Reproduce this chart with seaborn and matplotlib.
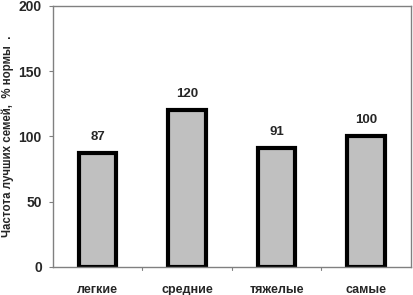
import numpy as np
import pandas as pd
import seaborn as sns
import matplotlib.pyplot as plt

categories = ['легкие', 'средние', 'тяжелые', 'самые']
values = [87, 120, 91, 100]
ylabel = 'Частота лучших семей,  % нормы  .'

df = pd.DataFrame({'cat': categories, 'val': values})

sns.set_style('white')
plt.rcParams['font.family'] = ['Liberation Sans', 'DejaVu Sans']
plt.rcParams['font.weight'] = 'bold'

fig = plt.figure(figsize=(4.13, 2.95), dpi=100)
ax = fig.add_axes([0.128, 0.095, 0.867, 0.885])

sns.barplot(data=df, x='cat', y='val', color='#c0c0c0', width=0.42,
            edgecolor='black', linewidth=3, saturation=1, ax=ax)

for i, v in enumerate(values):
    ax.text(i, v + 8, str(v), ha='center', va='bottom', fontsize=9.5, fontweight='bold')

ax.set_ylim(0, 200)
ax.set_xlim(-0.5, len(categories) - 0.5)
ax.set_yticks([0, 50, 100, 150, 200])
ax.set_xticks(range(len(categories)))
ax.set_xticklabels(categories, fontsize=9, fontweight='bold')
ax.tick_params(axis='y', labelsize=10, length=3, color='#808080', direction='out', left=True, pad=5)
ax.tick_params(axis='x', length=0, pad=12)
# boundary ticks between categories
for b in np.arange(0.5, len(categories) - 0.5, 1):
    ax.plot([b, b], [0, -2.5], color='#808080', lw=0.8, clip_on=False)
for s in ax.spines.values():
    s.set_color('#808080')
    s.set_linewidth(1)
ax.set_xlabel('')
ax.set_ylabel(ylabel, fontsize=8.3, fontweight='bold', labelpad=3)

fig.savefig('out.png', dpi=100)
